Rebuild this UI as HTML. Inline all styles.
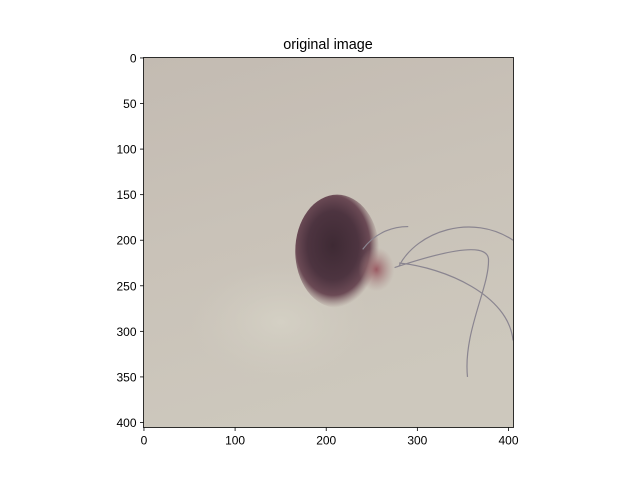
<!DOCTYPE html>
<html><head><meta charset="utf-8"><style>
body{margin:0;background:#fff;}
svg{display:block;font-family:"Liberation Sans","DejaVu Sans",sans-serif;}
</style></head><body>
<svg id="chart" width="640" height="480" viewBox="0 0 640 480">
<defs>
<linearGradient id="skin" x1="0" y1="0" x2="0.3" y2="1">
<stop offset="0" stop-color="#c3bbb2"/><stop offset="0.5" stop-color="#c9c2b8"/><stop offset="1" stop-color="#cdc8bd"/>
</linearGradient>
<radialGradient id="mole" cx="0.45" cy="0.45" r="0.55">
<stop offset="0" stop-color="#3e2a34"/><stop offset="0.55" stop-color="#4d3440"/><stop offset="0.8" stop-color="#6b4a55"/><stop offset="1" stop-color="#8a6e70" stop-opacity="0"/>
</radialGradient>
<radialGradient id="pink" cx="0.5" cy="0.5" r="0.5">
<stop offset="0" stop-color="#9a5a62"/><stop offset="1" stop-color="#a88a88" stop-opacity="0"/>
</radialGradient>
<radialGradient id="pale" cx="0.5" cy="0.5" r="0.5">
<stop offset="0" stop-color="#d4d0c4"/><stop offset="1" stop-color="#d0cbc0" stop-opacity="0"/>
</radialGradient>
<clipPath id="clip"><rect x="143.5" y="57.5" width="370" height="370"/></clipPath>
</defs>
<text x="328" y="49" font-size="14.4" text-anchor="middle">original image</text>
<g id="img" clip-path="url(#clip)"></g>
<rect x="143.5" y="57.5" width="370" height="370" fill="none" stroke="#000" stroke-width="0.8"/>
<g id="ticks"></g>
</svg>
<script>
const xTicks=[0,100,200,300,400];
const yTicks=[0,50,100,150,200,250,300,350,400];
const imgSize=[406,406];
const moleCenter=[212,212];
const moleRadius=[46,62];
const ns="http://www.w3.org/2000/svg";
const X0=143.5,Y0=57.5,W=370,H=370;
const sx=v=>X0+(v+0.5)*W/imgSize[0];
const sy=v=>Y0+(v+0.5)*H/imgSize[1];
const img=document.getElementById('img');
const tk=document.getElementById('ticks');
function mk(t,a,p){const e=document.createElementNS(ns,t);for(const k in a)e.setAttribute(k,a[k]);p.appendChild(e);return e;}
let r=mk('rect',{x:X0,y:Y0,width:W,height:H,fill:'url(#skin)'},img);


let p=mk('ellipse',{cx:sx(150),cy:sy(290),rx:90,ry:60,fill:'url(#pale)'},img);


let m=mk('ellipse',{cx:sx(moleCenter[0]),cy:sy(moleCenter[1]),rx:moleRadius[0]*W/imgSize[0],ry:moleRadius[1]*H/imgSize[1],fill:'url(#mole)'},img);


let pk=mk('ellipse',{cx:sx(255),cy:sy(232),rx:18,ry:22,fill:'url(#pink)'},img);


let h=mk('path',{d:`M${sx(280)} ${sy(228)} C ${sx(300)} ${sy(190)}, ${sx(360)} ${sy(170)}, ${sx(405)} ${sy(200)} M${sx(275)} ${sy(230)} C ${sx(320)} ${sy(215)}, ${sx(375)} ${sy(200)}, ${sx(378)} ${sy(220)} C ${sx(380)} ${sy(250)}, ${sx(350)} ${sy(300)}, ${sx(355)} ${sy(350)} M${sx(280)} ${sy(225)} C ${sx(330)} ${sy(230)}, ${sx(400)} ${sy(260)}, ${sx(405)} ${sy(310)} M${sx(240)} ${sy(210)} C ${sx(255)} ${sy(190)}, ${sx(275)} ${sy(185)}, ${sx(290)} ${sy(185)}`,fill:'none',stroke:'#8a8590',"stroke-width":1.2},img);


xTicks.forEach(v=>{const x=sx(v);
 let l=mk('line',{x1:x,x2:x,y1:Y0+H,y2:Y0+H+3.5,stroke:'#000','stroke-width':0.8},tk);
 
 
 let t=mk('text',{x:x,y:Y0+H+17,'font-size':12,'text-anchor':'middle'},tk);t.textContent=v;
 
 
});
yTicks.forEach(v=>{const y=sy(v);
 let l=mk('line',{x1:X0-3.5,x2:X0,y1:y,y2:y,stroke:'#000','stroke-width':0.8},tk);
 
 
 let t=mk('text',{x:X0-7,y:y+4.5,'font-size':12,'text-anchor':'end'},tk);t.textContent=v;
 
 
});
</script>
</body></html>
